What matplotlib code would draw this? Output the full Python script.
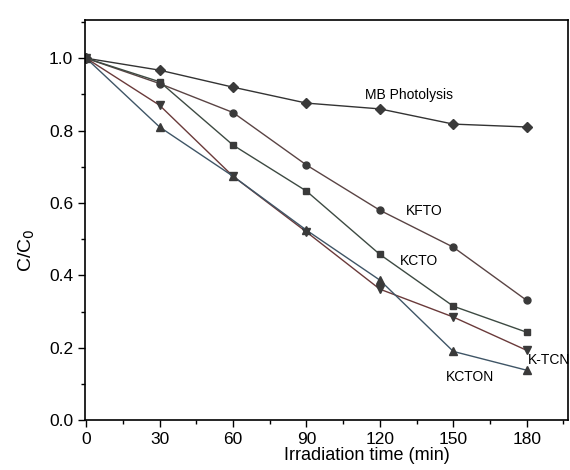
import numpy as np
import matplotlib
matplotlib.use('Agg')
import matplotlib.pyplot as plt
from matplotlib.ticker import MultipleLocator

plt.rcParams['font.family'] = ['Liberation Sans', 'DejaVu Sans']

# irradiation time (min)
time = [0, 30, 60, 90, 120, 150, 180]

# C/C0 for each sample
mb_photolysis = [1.0, 0.967, 0.92, 0.876, 0.86, 0.818, 0.81]
kfto = [1.0, 0.93, 0.85, 0.705, 0.58, 0.478, 0.331]
kcto = [1.0, 0.935, 0.76, 0.633, 0.458, 0.315, 0.243]
ktcn = [1.0, 0.87, 0.674, 0.52, 0.362, 0.285, 0.193]
kcton = [1.0, 0.81, 0.674, 0.525, 0.387, 0.19, 0.138]

fig = plt.figure(figsize=(5.7, 4.7), dpi=100)
ax = fig.add_axes([0.149, 0.106, 0.848, 0.851])

mk = '#3a3a3a'
ax.plot(time, mb_photolysis, color='#333333', lw=1.0, marker='D', ms=5, mfc=mk, mec=mk)
ax.plot(time, kfto, color='#5a4444', lw=1.0, marker='o', ms=5, mfc=mk, mec=mk)
ax.plot(time, kcto, color='#3d4a42', lw=1.0, marker='s', ms=4.5, mfc=mk, mec=mk)
ax.plot(time, ktcn, color='#6a3a3a', lw=1.0, marker='v', ms=5.5, mfc=mk, mec=mk)
ax.plot(time, kcton, color='#3f5566', lw=1.0, marker='^', ms=5.5, mfc=mk, mec=mk)

# curve labels
ax.text(132, 0.898, 'MB Photolysis', fontsize=10, ha='center', va='center')
ax.text(138, 0.577, 'KFTO', fontsize=10, ha='center', va='center')
ax.text(136, 0.44, 'KCTO', fontsize=10, ha='center', va='center')
ax.text(180.5, 0.166, 'K-TCN', fontsize=10, ha='left', va='center', clip_on=False)
ax.text(157, 0.119, 'KCTON', fontsize=10, ha='center', va='center')

ax.set_xlim(-0.5, 197)
ax.set_ylim(0, 1.105)
ax.xaxis.set_major_locator(MultipleLocator(30))
ax.xaxis.set_minor_locator(MultipleLocator(15))
ax.yaxis.set_major_locator(MultipleLocator(0.2))
ax.yaxis.set_minor_locator(MultipleLocator(0.1))
ax.set_yticklabels([f'{v:.1f}' for v in ax.get_yticks()])
ax.tick_params(which='both', direction='out', labelsize=12.5, width=1.0)
ax.tick_params(which='major', length=5)
ax.tick_params(which='minor', length=3)

ax.set_xlabel('Irradiation time (min)', fontsize=13)
ax.xaxis.set_label_coords(0.584, -0.066)
ax.set_ylabel('C/C$_0$', fontsize=14)
ax.yaxis.set_label_coords(-0.10, 0.425)

for s in ax.spines.values():
    s.set_linewidth(1.2)

fig.savefig('out.png', dpi=100)
